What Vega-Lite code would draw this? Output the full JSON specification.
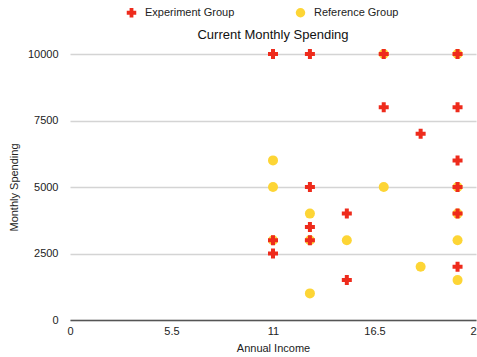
{
  "$schema": "https://vega.github.io/schema/vega-lite/v6.json",
  "width": 406,
  "height": 266,
  "autosize": {"type": "none"},
  "padding": {"left": 70, "top": 54, "right": 1, "bottom": 37},
  "background": "white",
  "title": {"text": "Current Monthly Spending", "fontSize": 13, "fontWeight": "normal", "font": "Liberation Sans", "color": "#111", "anchor": "middle", "frame": "group", "offset": -35},
  "config": {"view": {"stroke": null}, "font": "Liberation Sans"},
  "data": {"values": [
    {"income": 17, "spend": 10000, "group": "Reference Group"},
    {"income": 21, "spend": 10000, "group": "Reference Group"},
    {"income": 11, "spend": 6000, "group": "Reference Group"},
    {"income": 11, "spend": 5000, "group": "Reference Group"},
    {"income": 17, "spend": 5000, "group": "Reference Group"},
    {"income": 21, "spend": 5000, "group": "Reference Group"},
    {"income": 13, "spend": 4000, "group": "Reference Group"},
    {"income": 21, "spend": 4000, "group": "Reference Group"},
    {"income": 11, "spend": 3000, "group": "Reference Group"},
    {"income": 13, "spend": 3000, "group": "Reference Group"},
    {"income": 15, "spend": 3000, "group": "Reference Group"},
    {"income": 21, "spend": 3000, "group": "Reference Group"},
    {"income": 19, "spend": 2000, "group": "Reference Group"},
    {"income": 21, "spend": 1500, "group": "Reference Group"},
    {"income": 13, "spend": 1000, "group": "Reference Group"},
    {"income": 11, "spend": 10000, "group": "Experiment Group"},
    {"income": 13, "spend": 10000, "group": "Experiment Group"},
    {"income": 17, "spend": 10000, "group": "Experiment Group"},
    {"income": 21, "spend": 10000, "group": "Experiment Group"},
    {"income": 17, "spend": 8000, "group": "Experiment Group"},
    {"income": 21, "spend": 8000, "group": "Experiment Group"},
    {"income": 19, "spend": 7000, "group": "Experiment Group"},
    {"income": 21, "spend": 6000, "group": "Experiment Group"},
    {"income": 21, "spend": 5000, "group": "Experiment Group"},
    {"income": 13, "spend": 5000, "group": "Experiment Group"},
    {"income": 15, "spend": 4000, "group": "Experiment Group"},
    {"income": 21, "spend": 4000, "group": "Experiment Group"},
    {"income": 13, "spend": 3500, "group": "Experiment Group"},
    {"income": 11, "spend": 3000, "group": "Experiment Group"},
    {"income": 13, "spend": 3000, "group": "Experiment Group"},
    {"income": 11, "spend": 2500, "group": "Experiment Group"},
    {"income": 21, "spend": 2000, "group": "Experiment Group"},
    {"income": 15, "spend": 1500, "group": "Experiment Group"}
  ]},
  "mark": {"type": "point", "filled": true, "opacity": 1, "size": 100, "clip": false},
  "encoding": {
    "x": {"field": "income", "type": "quantitative",
      "scale": {"domain": [0, 22], "nice": false, "zero": false},
      "axis": {"values": [0, 5.5, 11, 16.5, 22], "labelExpr": "datum.value + ''", "title": "Annual Income", "grid": false, "ticks": false,
        "domainColor": "#555", "domainWidth": 1.5, "labelColor": "#222", "labelFontSize": 11, "labelPadding": 5,
        "titleFontSize": 11, "titleFontWeight": "normal", "titleColor": "#222", "titlePadding": 6, "labelFlush": false}},
    "y": {"field": "spend", "type": "quantitative",
      "scale": {"domain": [0, 10000], "nice": false},
      "axis": {"values": [0, 2500, 5000, 7500, 10000], "labelExpr": "datum.value + ''", "title": "Monthly Spending", "grid": true, "gridColor": "#d4d4d4", "gridWidth": 1.5,
        "domain": false, "ticks": false, "labelColor": "#222", "labelFontSize": 11, "labelPadding": 12,
        "titleFontSize": 11, "titleFontWeight": "normal", "titleColor": "#222", "titlePadding": 8}},
    "color": {"field": "group", "type": "nominal",
      "scale": {"domain": ["Experiment Group", "Reference Group"], "range": ["#EE2B1C", "#FDD535"]},
      "legend": {"title": null, "orient": "none", "direction": "horizontal", "legendX": 56, "legendY": -47,
        "labelFontSize": 11, "labelColor": "#222", "columnPadding": 60, "symbolSize": 90, "labelOffset": 8}},
    "shape": {"field": "group", "type": "nominal",
      "scale": {"domain": ["Experiment Group", "Reference Group"], "range": ["cross", "circle"]}},
    "order": {"field": "group", "sort": "descending"}
  }
}
